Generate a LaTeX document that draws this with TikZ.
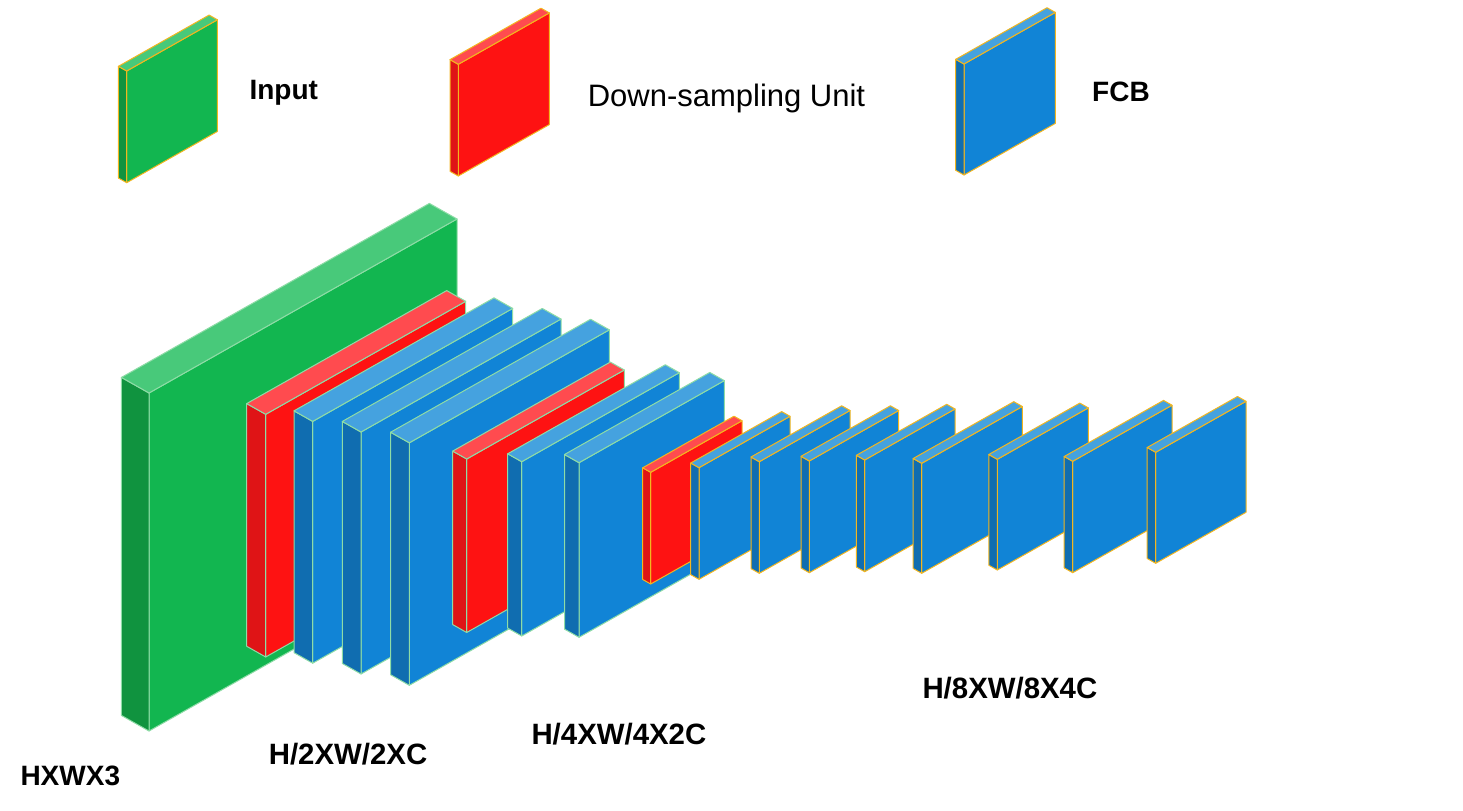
\documentclass[tikz,border=0pt]{standalone}
\usepackage{fontspec}
\setmainfont{Liberation Sans}
\definecolor{gfront}{HTML}{12B650}
\definecolor{gtop}{HTML}{48C97A}
\definecolor{gside}{HTML}{10933F}
\definecolor{rfront}{HTML}{FE1212}
\definecolor{rtop}{HTML}{FF4B4F}
\definecolor{rside}{HTML}{DF1416}
\definecolor{bfront}{HTML}{1184D6}
\definecolor{btop}{HTML}{45A2DF}
\definecolor{bside}{HTML}{106DB0}
\definecolor{paleedge}{HTML}{8EDCA6}
\definecolor{goldedge}{HTML}{F3B61F}
\newcommand{\slab}[7]{%
\filldraw[fill=#6front,draw=#7] (#1,#2) -- ++(0,-#4) -- ++(#3,-0.565*#3) -- ++(0,#4) -- cycle;
\filldraw[fill=#6side,draw=#7] (#1,#2) -- ++(-#5,-0.565*#5) -- ++(0,-#4) -- ++(#5,0.565*#5) -- cycle;
\filldraw[fill=#6top,draw=#7] (#1,{#2-#4}) -- ++(#3,-0.565*#3) -- ++(-#5,-0.565*#5) -- ++(-#3,0.565*#3) -- cycle;
}
\begin{document}
\begin{tikzpicture}[x=0.5pt,y=-0.5pt,line join=round,line width=0.5pt,
  lbl/.style={font=\fontsize{14}{17}\selectfont\bfseries,anchor=base west,inner sep=0pt},
  size/.style={lbl,font=\fontsize{14.7}{17}\selectfont\bfseries}]
\useasboundingbox (0,0) rectangle (1463,810);
\slab{126.7}{182.7}{90.7}{111.7}{8.3}{g}{goldedge}
\slab{458.3}{176}{91}{111.7}{8.3}{r}{goldedge}
\slab{964}{175}{91.3}{111}{8.3}{b}{goldedge}
\node[lbl] (input) at (249,99.3) {Input};
\node[lbl,font=\fontsize{15.5}{18}\selectfont] (down) at (587.3,106.7) {Down-sampling Unit};
\node[lbl] (fcb) at (1091.7,101.7) {FCB};
\slab{149}{731}{308}{338}{27.6}{g}{paleedge}
\slab{265.7}{657}{200}{242.7}{19}{r}{paleedge}
\slab{312.7}{663.2}{200}{241.8}{18.7}{b}{paleedge}
\slab{361}{674}{200}{242}{18.7}{b}{paleedge}
\slab{409.3}{685.3}{200}{242.5}{18.7}{b}{paleedge}
\slab{466.7}{632.5}{157.6}{173.5}{14}{r}{paleedge}
\slab{521.7}{636}{157.6}{174.3}{14}{b}{paleedge}
\slab{579}{637.3}{145.3}{174.6}{14.5}{b}{paleedge}
\slab{650.7}{584}{91.3}{111.7}{8}{r}{goldedge}
\slab{699}{579.3}{91}{111.6}{8.3}{b}{goldedge}
\slab{759.3}{573.3}{90.7}{111.6}{8.3}{b}{goldedge}
\slab{809.3}{572.7}{89.4}{111.7}{8.3}{b}{goldedge}
\slab{864.7}{571.7}{90.3}{111.7}{8.3}{b}{goldedge}
\slab{921.7}{573.3}{100.6}{110}{8.5}{b}{goldedge}
\slab{997.3}{570}{91}{110.7}{8.5}{b}{goldedge}
\slab{1072.7}{572.7}{99.3}{111.4}{8.5}{b}{goldedge}
\slab{1155.7}{563.3}{90.3}{111}{8.5}{b}{goldedge}
\node[lbl] (s0) at (20,785) {HXWX3};
\node[size] (s1) at (268.3,764) {H/2XW/2XC};
\node[size] (s2) at (531,744) {H/4XW/4X2C};
\node[size] (s3) at (922,698.3) {H/8XW/8X4C};
\end{tikzpicture}
\end{document}
